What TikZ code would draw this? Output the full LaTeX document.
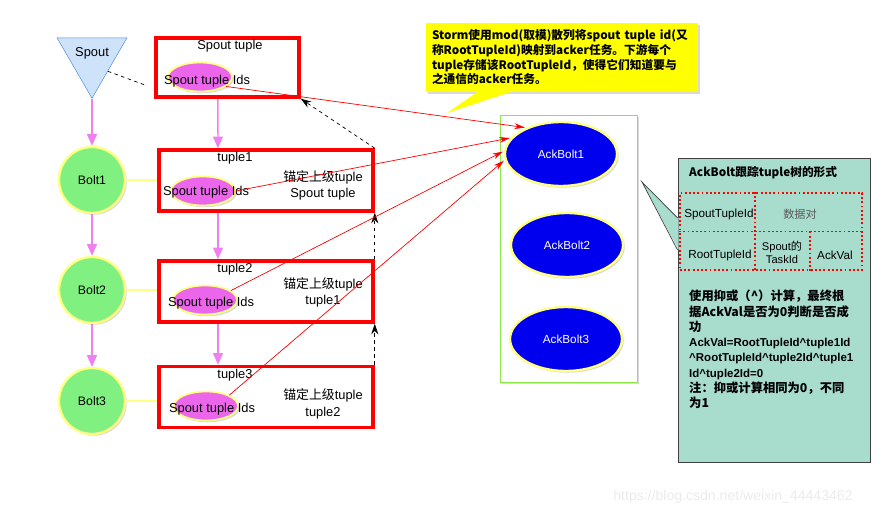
\documentclass[tikz,border=0pt]{standalone}
\usepackage{fontspec}
\setmainfont{Liberation Sans}
\newfontfamily\cjk{Noto Sans CJK SC}
\newcommand{\zh}[1]{{\cjk #1}}
\newcommand{\latb}{\rmfamily\bfseries\fontsize{9.8}{13}\selectfont}
\usetikzlibrary{shapes.geometric, arrows.meta, shadows}

\definecolor{spoutblue}{RGB}{206,226,250}
\definecolor{spoutedge}{RGB}{74,134,222}
\definecolor{boltgreen}{RGB}{128,240,128}
\definecolor{ringyellow}{RGB}{255,255,128}
\definecolor{idspink}{RGB}{236,102,236}
\definecolor{flowviolet}{RGB}{240,128,240}
\definecolor{ackblue}{RGB}{0,0,238}
\definecolor{framegreen}{RGB}{140,232,70}
\definecolor{noteyellow}{RGB}{255,255,0}
\definecolor{noteteal}{RGB}{168,220,205}

\tikzset{
  softshadow/.style={drop shadow={shadow xshift=1.5pt, shadow yshift=-1.5pt, opacity=0.3}},
  lbl/.style={inner sep=0pt, font=\fontsize{11}{12}\selectfont},
  spoutnode/.style={regular polygon, regular polygon sides=3, shape border rotate=180, draw=spoutedge, fill=spoutblue, minimum size=2.42cm, inner sep=0pt},
  bolt/.style={circle, draw=ringyellow, line width=2pt, fill=boltgreen, minimum size=1.98cm, inner sep=0pt, font=\fontsize{10.5}{12}\selectfont, softshadow},
  tuplebox/.style={rectangle, draw=red, line width=3pt, fill=white, minimum width=6.42cm, minimum height=1.83cm, softshadow},
  idsell/.style={ellipse, draw=ringyellow, line width=1.5pt, fill=idspink, minimum width=1.92cm, minimum height=0.87cm, softshadow},
  ackbolt/.style={ellipse, draw=ringyellow, line width=2pt, fill=ackblue, text=white, minimum width=3.36cm, minimum height=1.92cm, font=\fontsize{10}{12}\selectfont, softshadow},
  ackframe/.style={rectangle, draw=framegreen, line width=0.8pt, fill=white, minimum width=4.11cm, minimum height=8.01cm, softshadow},
  stormnote/.style={rectangle, fill=noteyellow, text width=7.8cm, inner xsep=0.18cm, minimum height=2.07cm, align=left, font=\cjk\bfseries\fontsize{10}{12.5}\selectfont, softshadow},
  tealbox/.style={rectangle, draw=black!75, line width=0.8pt, fill=noteteal, minimum width=5.76cm, minimum height=9.12cm},
  cell/.style={inner sep=0pt, font=\fontsize{10}{12}\selectfont},
  flow/.style={flowviolet, line width=1.2pt, -{Triangle[length=10pt, width=8.5pt]}},
  tie/.style={ringyellow, line width=1pt},
  backref/.style={dashed, black, line width=0.6pt, -{Stealth[length=9pt, width=6pt]}},
  report/.style={red, line width=0.6pt, -{Stealth[length=9pt, width=5pt]}, shorten >=1pt},
  dotcell/.style={red, dotted, line width=1.6pt},
}

\begin{document}
\begin{tikzpicture}[x=0.03cm, y=-0.03cm]
  \path[use as bounding box] (0,0) rectangle (879,516);

  % Spout and its bolts on the left
  \node[spoutnode] (spout) at (92,58) {};
  \node[lbl] (spouttext) at (92,53) {Spout};
  \foreach \i/\y in {1/180, 2/290, 3/401}
    \node[bolt] (bolt\i) at (92,\y) {Bolt\i};

  % The tuple boxes with their ids
  \node[tuplebox, minimum width=4.29cm, minimum height=1.77cm] (sbox) at (227.5,67.5) {};
  \node[lbl] (stitle) at (230,46) {Spout tuple};
  \node[idsell] (sids) at (200,77) {};
  \node[lbl] (stext) at (207,81) {Spout tuple Ids};

  \foreach \i/\by/\ex/\ey/\tx/\ty/\ry/\up in {1/180.5/203/191/206/192/185.5/Spout tuple, 2/291.5/205/300/211/303/292.5/tuple1, 3/397/206/406/212/409/404/tuple2} {
    \node[tuplebox] (t\i) at (266,\by) {};
    \node[lbl] (t\i-title) at (235,\by-22) {tuple\i};
    \node[idsell] (ids\i) at (\ex,\ey) {};
    \node[lbl] (ids\i-text) at (\tx,\ty) {Spout tuple Ids};
    \node[lbl, align=center, font=\fontsize{11}{14}\selectfont] (up\i) at (323,\ry) {\zh{锚定上级}tuple\\\up};
  }

  % Violet flow arrows
  \draw[flow] (spout.south) -- (bolt1);
  \draw[flow] (bolt1) -- (bolt2);
  \draw[flow] (bolt2) -- (bolt3);
  \draw[flow] ([xshift=-0.29cm]sbox.south) -- ([xshift=-1.44cm]t1.north);
  \draw[flow] ([xshift=-1.44cm]t1.south) -- ([xshift=-1.44cm]t2.north);
  \draw[flow] ([xshift=-1.44cm]t2.south) -- ([xshift=-1.44cm]t3.north);

  % Bolts hold the tuples
  \foreach \i in {1,2,3}
    \draw[tie] (bolt\i) -- (bolt\i -| t\i.west);

  % Dashed anchor links
  \coordinate (spoutlink) at (145,85);
  \draw[dashed, line width=0.6pt] (spout.-40) -- (spoutlink);
  \draw[backref] (t1.north east) -- (sbox.south east);
  \draw[backref] (t2.north east) -- (t1.south east);
  \draw[backref] (t3.north east) -- (t2.south east);

  % Acker tasks
  \node[ackframe] (acker) at (568.5,248.5) {};
  \foreach \i/\x/\y in {1/561/154, 2/567/245, 3/566/339}
    \node[ackbolt] (ack\i) at (\x,\y) {AckBolt\i};

  % Ids are sent to AckBolt1
  \draw[report] (sids.-20) -- (ack1.143);
  \draw[report] (ids1.east) -- (ack1.162);
  \draw[report] (ids2.20) -- (ack1.177);
  \draw[report] (ids3.25) -- (ack1.186);

  % Yellow note
  \node[stormnote] (storm) at (562,57.5) {Storm使用mod(取模)散列将spout tuple id(又\\称RootTupleId)映射到acker任务。下游每个\\tuple存储该RootTupleId，使得它们知道要与\\之通信的acker任务。};
  \coordinate (stormtip) at (447,113);
  \fill[noteyellow] ([xshift=-2.55cm]storm.south) -- (stormtip) -- ([xshift=-1.56cm]storm.south) -- cycle;

  % Teal note with the tuple tree form
  \node[tealbox] (tree) at (774,310) {};
  \coordinate (treetip) at (642,182);
  \fill[noteteal] ([xshift=1pt, yshift=2.76cm]tree.west) -- (treetip) -- ([xshift=1pt, yshift=1.8cm]tree.west) -- cycle;
  \draw[black!75, line width=0.6pt] ([yshift=2.76cm]tree.west) -- (treetip) -- ([yshift=1.8cm]tree.west);
  \node[lbl, anchor=west, font=\cjk\bfseries\fontsize{10}{12}\selectfont] (treetitle) at (689,173) {AckBolt跟踪tuple树的形式};

  \node[rectangle, draw=red, dotted, line width=1.6pt, minimum width=5.46cm, minimum height=2.31cm] (pairs) at (771,231.5) {};
  \draw[dotcell] (pairs.west) -- (pairs.east);
  \draw[dotcell] ([xshift=-0.48cm]pairs.north) -- ([xshift=-0.48cm]pairs.south);
  \draw[dotcell] ([xshift=1.17cm]pairs.center) -- ([xshift=1.17cm]pairs.south);
  \node[cell] (c11) at (719,214) {SpoutTupleId};
  \node[cell, text=black!65, font=\cjk\fontsize{9.5}{11}\selectfont] (c12) at (800,214) {数据对};
  \node[cell] (c21) at (720,255) {RootTupleId};
  \node[cell, align=center, font=\fontsize{9.5}{11}\selectfont] (c22) at (782,252) {Spout\zh{的}\\TaskId};
  \node[cell] (c23) at (835,255) {AckVal};

  \node[lbl, anchor=north west, align=left, font=\cjk\bfseries\fontsize{10.5}{13}\selectfont] (xornote) at (689,290) {使用抑或（\textasciicircum）计算，最终根\\据AckVal是否为0判断是否成\\功\\{\latb AckVal=RootTupleId\textasciicircum tuple1Id}\\{\latb\textasciicircum RootTupleId\textasciicircum tuple2Id\textasciicircum tuple1}\\{\latb Id\textasciicircum tuple2Id=0}\\注：抑或计算相同为0，不同\\为1};

  % Watermark
  \node[lbl, text=black!8, font=\fontsize{12}{14}\selectfont] (mark) at (733,497) {https://blog.csdn.net/weixin\_44443462};
\end{tikzpicture}
\end{document}
